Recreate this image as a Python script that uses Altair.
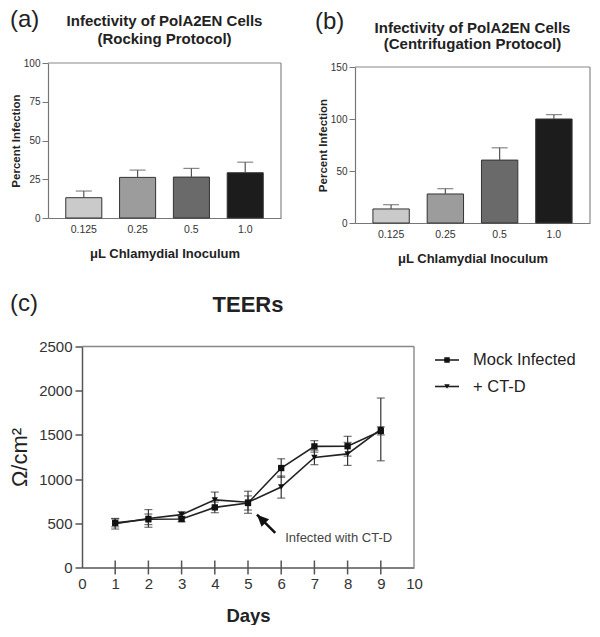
import altair as alt
import pandas as pd

# ---------------- data ----------------
doses = ["0.125", "0.25", "0.5", "1.0"]
bar_colors = ["#cacaca", "#9c9c9c", "#6a6a6a", "#1c1c1c"]

rock_pct = [13.1, 26.2, 26.4, 29.2]
rock_err = [4.3, 4.7, 5.6, 6.8]

cent_pct = [13.5, 27.9, 60.5, 100.0]
cent_err = [4.1, 5.1, 11.8, 4.2]

days = [1, 2, 3, 4, 5, 6, 7, 8, 9]
mock_val = [505, 545, 548, 680, 730, 1125, 1370, 1372, 1545]
mock_err = [45, 60, 30, 60, 80, 105, 65, 112, 45]
ctd_val = [495, 555, 598, 765, 738, 910, 1245, 1285, 1562]
ctd_err = [60, 100, 35, 88, 125, 125, 82, 130, 355]
series_names = ["Mock Infected", "+ CT-D"]
series_shapes = ["square", "triangle-down"]

y_ticks_a = [0, 25, 50, 75, 100]
y_ticks_b = [0, 50, 100, 150]
y_ticks_c = [0, 500, 1000, 1500, 2000, 2500]
x_ticks_c = [0, 1, 2, 3, 4, 5, 6, 7, 8, 9, 10]

title_a = ["Infectivity of PolA2EN Cells", "(Rocking Protocol)"]
title_b = ["Infectivity of PolA2EN Cells", "(Centrifugation Protocol)"]
title_c = "TEERs"

arrow_tail = (5.82, 392)
arrow_head = (5.27, 598)
note_pos = (6.12, 335)
note_text = "Infected with CT-D"

FONT = "Liberation Sans"
TXT = "#333333"
FRAME = "#888888"
NOSTROKE = alt.ViewBackground(stroke=None)


def text_layer(txt, x, y, size, weight="normal", align="center", baseline="middle",
               color="#222"):
    return alt.Chart(pd.DataFrame({"t": [txt]})).mark_text(
        align=align, baseline=baseline, fontSize=size, fontWeight=weight,
        font=FONT, color=color,
    ).encode(x=alt.value(x), y=alt.value(y), text="t:N")


def bar_panel(pct, err, title_lines, title_ys, tag, tag_xy, ymax, yticks, w, h, top_off):
    df = pd.DataFrame({"dose": doses, "pct": pct, "err": err})
    df["hi"] = df["pct"] + df["err"]
    base = alt.Chart(df)
    H = h + top_off
    xs = alt.Scale(domain=doses, paddingInner=0.33, paddingOuter=0.33)
    xa = alt.Axis(
        title="\u03bcL Chlamydial Inoculum", labelAngle=0, ticks=False,
        labelPadding=6, labelFontSize=10.5, labelColor=TXT, labelFont=FONT,
        titleFontSize=13, titleFontWeight="bold", titleColor="#222",
        titleFont=FONT, titleY=29, titleBaseline="top",
        domainColor="#777", domainWidth=1.2,
    )
    ys = alt.Scale(domain=[0, ymax], range=[H, top_off], nice=False)
    ya = alt.Axis(
        title="Percent Infection", values=yticks, grid=False, labelOverlap=False,
        labelFlush=False, tickSize=6, tickColor="#777", labelPadding=2, labelFontSize=10,
        labelColor=TXT, labelFont=FONT, titleFontSize=11.5,
        titleFontWeight="bold", titleColor="#222", titleFont=FONT,
        titleX=-27, titleY=top_off + h / 2, domainColor="#777", domainWidth=1.2,
    )

    def X(f):
        return alt.X(f, scale=xs, axis=xa, sort=doses)

    def Y(f):
        return alt.Y(f, scale=ys, axis=ya)

    bars = base.mark_bar(stroke="#333", strokeWidth=1).encode(
        x=X("dose:N"), y=Y("pct:Q"),
        color=alt.Color("dose:N", scale=alt.Scale(domain=doses, range=bar_colors), legend=None),
    )
    errs = base.mark_rule(color="#555", strokeWidth=1.2).encode(
        x=X("dose:N"), y=Y("pct:Q"), y2="hi:Q")
    caps = base.mark_tick(orient="horizontal", size=16, thickness=1.2, color="#555").encode(
        x=X("dose:N"), y=Y("hi:Q"))
    frame_top = alt.Chart(pd.DataFrame({"v": [ymax]})).mark_rule(color=FRAME, strokeWidth=1.2).encode(
        x=alt.value(0), x2=alt.value(w), y=Y("v:Q"))
    frame_right = alt.Chart(pd.DataFrame({"v": [ymax], "z": [0]})).mark_rule(
        color=FRAME, strokeWidth=1.2).encode(x=alt.value(w), y=Y("v:Q"), y2="z:Q")
    layers = [bars, errs, caps, frame_top, frame_right,
              text_layer(tag, tag_xy[0], tag_xy[1], 24, align="left", baseline="top")]
    for line, yy in zip(title_lines, title_ys):
        layers.append(text_layer(line, w / 2, yy, 15, weight="bold"))
    return alt.layer(*layers).properties(width=w, height=H, view=NOSTROKE)


panel_a = bar_panel(rock_pct, rock_err, title_a, [-42, -24], "(a)", (-38, -55),
                    100, y_ticks_a, 233, 155, 0)
panel_b = bar_panel(cent_pct, cent_err, title_b, [-35.5, -19], "(b)", (-40, -53),
                    150, y_ticks_b, 235, 156, 4)

# ---------------- panel c ----------------
WC, HC = 332, 221
cdf = pd.DataFrame({
    "day": days + days,
    "val": mock_val + ctd_val,
    "err": mock_err + ctd_err,
    "series": [series_names[0]] * len(days) + [series_names[1]] * len(days),
})
cdf["lo"] = cdf["val"] - cdf["err"]
cdf["hi"] = cdf["val"] + cdf["err"]
cbase = alt.Chart(cdf)

cxs = alt.Scale(domain=[0, 10], nice=False)
cxa = alt.Axis(
    title="Days", values=x_ticks_c, ticks=False, grid=False, labelPadding=9,
    labelOverlap=False, labelFlush=False, labelFontSize=15, labelColor=TXT, labelFont=FONT,
    titleFontSize=18.5, titleFontWeight="bold", titleColor="#222", titleFont=FONT,
    titleY=39, titleBaseline="top", domainColor="#555", domainWidth=1.5,
)
cys = alt.Scale(domain=[0, 2500], nice=False)
cya = alt.Axis(
    title="\u03a9/cm\u00b2", values=y_ticks_c, format="d", grid=False, tickSize=7,
    labelOverlap=False, labelFlush=False, tickColor="#555", tickWidth=1.5, labelPadding=3,
    labelFontSize=15, labelColor=TXT, labelFont=FONT, titleFontSize=22,
    titleFontWeight="normal", titleColor="#222", titleFont=FONT,
    titleX=-51, titleY=HC / 2, domainColor="#555", domainWidth=1.5,
)


def CX(f):
    return alt.X(f, scale=cxs, axis=cxa)


def CY(f):
    return alt.Y(f, scale=cys, axis=cya)


c_lines = cbase.mark_line(color="#222", strokeWidth=1.6).encode(
    x=CX("day:Q"), y=CY("val:Q"), detail="series:N")
c_err = cbase.mark_rule(color="#333", strokeWidth=1.2).encode(
    x=CX("day:Q"), y=CY("lo:Q"), y2="hi:Q")
c_cap_lo = cbase.mark_tick(orient="horizontal", size=8, thickness=1.2, color="#333").encode(
    x=CX("day:Q"), y=CY("lo:Q"))
c_cap_hi = cbase.mark_tick(orient="horizontal", size=8, thickness=1.2, color="#333").encode(
    x=CX("day:Q"), y=CY("hi:Q"))
c_pts = cbase.mark_point(filled=True, opacity=1, color="#111", size=40).encode(
    x=CX("day:Q"), y=CY("val:Q"),
    shape=alt.Shape("series:N", scale=alt.Scale(domain=series_names, range=series_shapes), legend=None),
)

tick_df = pd.DataFrame({"day": days})
c_xticks = alt.Chart(tick_df).mark_rule(color="#555", strokeWidth=1.5).encode(
    x=CX("day:Q"), y=alt.value(HC - 7), y2=alt.value(HC + 7)
)

frame_df = pd.DataFrame({"x0": [0], "x1": [10], "y0": [0], "y1": [2500]})
c_frame_top = alt.Chart(frame_df).mark_rule(color=FRAME, strokeWidth=1.4).encode(
    x=CX("x0:Q"), x2="x1:Q", y=CY("y1:Q"))
c_frame_right = alt.Chart(frame_df).mark_rule(color=FRAME, strokeWidth=1.4).encode(
    x=CX("x1:Q"), y=CY("y0:Q"), y2="y1:Q")

arrow_df = pd.DataFrame({"x": [arrow_tail[0]], "y": [arrow_tail[1]],
                         "x2": [arrow_head[0]], "y2": [arrow_head[1]]})
arrow_line = alt.Chart(arrow_df).mark_rule(color="#111", strokeWidth=2.5).encode(
    x=CX("x:Q"), y=CY("y:Q"), x2="x2:Q", y2="y2:Q"
)
arrow_tip = alt.Chart(arrow_df).mark_point(
    shape="M0,0L-0.45,1L0.45,1Z", filled=True, opacity=1, color="#111", size=560, angle=315
).encode(x=CX("x2:Q"), y=CY("y2:Q"))

note_df = pd.DataFrame({"x": [note_pos[0]], "y": [note_pos[1]], "t": [note_text]})
note = alt.Chart(note_df).mark_text(
    align="left", baseline="middle", fontSize=13, font=FONT, color="#444"
).encode(x=CX("x:Q"), y=CY("y:Q"), text="t:N")

# manual legend
leg_layers = []
leg_y = [13.5, 40]
for i, (nm, shp) in enumerate(zip(series_names, series_shapes)):
    lb = alt.Chart(pd.DataFrame({"t": [nm]}))
    leg_layers.append(lb.mark_rule(color="#222", strokeWidth=1.6).encode(
        x=alt.value(353), x2=alt.value(377), y=alt.value(leg_y[i])))
    leg_layers.append(lb.mark_point(shape=shp, filled=True, opacity=1, color="#111", size=30).encode(
        x=alt.value(365), y=alt.value(leg_y[i])))
    leg_layers.append(lb.mark_text(align="left", baseline="middle", fontSize=16.5, font=FONT,
                                   color="#222").encode(
        x=alt.value(391), y=alt.value(leg_y[i]), text="t:N"))

ctag = text_layer("(c)", -72, -55, 24, align="left", baseline="top")
ctitle = text_layer(title_c, WC / 2, -41.5, 22, weight="bold")

panel_c = alt.layer(
    c_frame_top, c_frame_right, c_xticks, c_lines, c_err, c_cap_lo, c_cap_hi, c_pts,
    arrow_line, arrow_tip, note, ctag, ctitle, *leg_layers
).properties(width=WC, height=HC, view=NOSTROKE)

# invisible spacer that pushes panel (c) right of panel (a)
spacer = alt.Chart(pd.DataFrame({"t": [""]})).mark_text().encode(
    text="t:N").properties(width=34, height=1, view=NOSTROKE)

top_row = alt.hconcat(panel_a, panel_b, spacing=74, bounds="flush")
bottom_row = alt.hconcat(spacer, panel_c, spacing=0, bounds="flush")
chart = alt.vconcat(top_row, bottom_row, spacing=283.5, bounds="flush").properties(
    padding={"left": 0, "top": 0, "right": 0, "bottom": 0}
).configure_view(stroke=None).configure(font=FONT)

chart.save("out.html", embed_options={"renderer": "svg", "actions": False})
